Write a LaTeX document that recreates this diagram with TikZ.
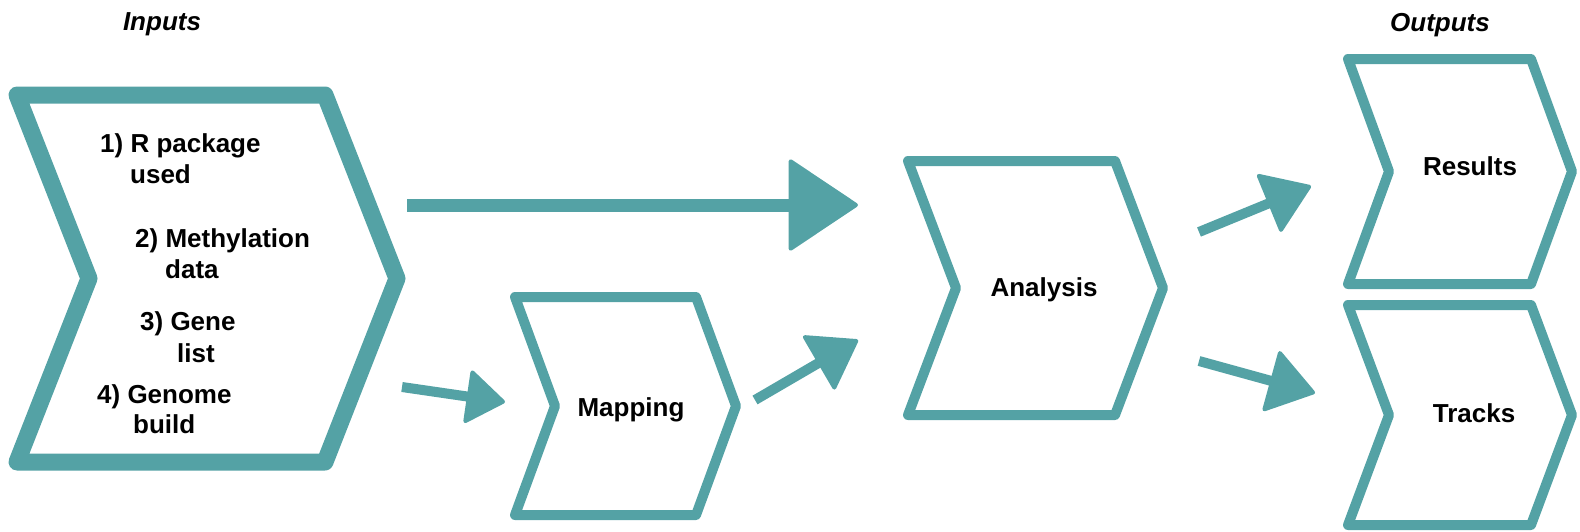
\documentclass[tikz,border=0pt]{standalone}
\usepackage{fontspec}
\setmainfont{Liberation Sans}
\usetikzlibrary{arrows.meta,positioning}
\definecolor{chevteal}{RGB}{84,162,165}
\newcommand\drawchevron[3][]{\draw[rim,#1] (#2.north west) -- (#2.north east) -- ([xshift=#3]#2.east) -- (#2.south east) -- (#2.south west) -- ([xshift=#3]#2.west) -- cycle;}

\begin{document}
\begin{tikzpicture}[x=1pt,y=-1pt,
    box/.style={rectangle,inner sep=0pt,outer sep=0pt},
    rim/.style={draw=chevteal,line width=10pt,line join=round},
    word/.style={inner sep=0pt,font=\bfseries\fontsize{26}{31}\selectfont,text height=18.6pt,text depth=0pt},
    item/.style={inner sep=0pt,anchor=base west,font=\bfseries\fontsize{26}{31}\selectfont},
    head/.style={inner sep=0pt,font=\bfseries\itshape\fontsize{26}{31}\selectfont,text height=18.6pt,text depth=0pt},
    flow/.style={color=chevteal,line width=10pt,-{Triangle[length=48pt,width=65pt,round,line width=4pt]}},
    bigflow/.style={color=chevteal,line width=13pt,-{Triangle[length=71pt,width=94pt,round,line width=4pt]}}]
    \useasboundingbox (0,0) rectangle (1580,531);
    \node[box,minimum width=308pt,minimum height=367pt] (inputs) at (171,278.5) {};
    \node[box,minimum width=181pt,minimum height=218pt] (mapping) at (605.5,406) {};
    \node[box,minimum width=207pt,minimum height=254pt] (analysis) at (1011.5,288) {};
    \node[box,minimum width=183pt,minimum height=225pt] (results) at (1439.5,171.5) {};
    \node[box,minimum width=183pt,minimum height=220pt] (tracks) at (1439.5,415) {};
    \drawchevron[line width=17pt]{inputs}{72}
    \drawchevron{mapping}{40}
    \drawchevron{analysis}{48}
    \drawchevron{results}{41}
    \drawchevron{tracks}{41}

    \node[head] (inhead) at (162,21) {Inputs};
    \node[head] (outhead) at (1440,22) {Outputs};

    \node[item] (r1) at (100,152) {1) R package};
    \node[item] (r2) at (135,247) {2) Methylation};
    \node[item] (r3) at (140,330) {3) Gene};
    \node[item] (r4) at (97,403) {4) Genome};
    \node[item] (r1b) at ([shift={(30,31)}]r1.base west) {used};
    \node[item] (r2b) at ([shift={(30,31)}]r2.base west) {data};
    \node[item] (r3b) at ([shift={(37,32)}]r3.base west) {list};
    \node[item] (r4b) at ([shift={(36,30)}]r4.base west) {build};

    \node[word] (maptext) at ([shift={(25.5,1)}]mapping.center) {Mapping};
    \node[word] (antext) at ([shift={(32.5,-1)}]analysis.center) {Analysis};
    \node[word] (restext) at ([shift={(30.5,-5.5)}]results.center) {Results};
    \node[word] (trtext) at ([shift={(34.5,-2)}]tracks.center) {Tracks};

    \draw[bigflow] ([shift={(82,-73.5)}]inputs.east) -- ([shift={(-50,-83)}]analysis.west);
    \draw[flow,-{Triangle[length=40pt,width=56pt,round,line width=4pt]}]
    ([shift={(77,108.5)}]inputs.east) -- ([shift={(-10,-4)}]mapping.west);
    \draw[flow] ([shift={(59,-6)}]mapping.east) -- ([shift={(-50,52)}]analysis.west);
    \draw[flow] ([shift={(84,-56)}]analysis.east) -- ([shift={(-37,14.5)}]results.west);
    \draw[flow] ([shift={(84,73)}]analysis.east) -- ([shift={(-33,-22)}]tracks.west);
\end{tikzpicture}
\end{document}
